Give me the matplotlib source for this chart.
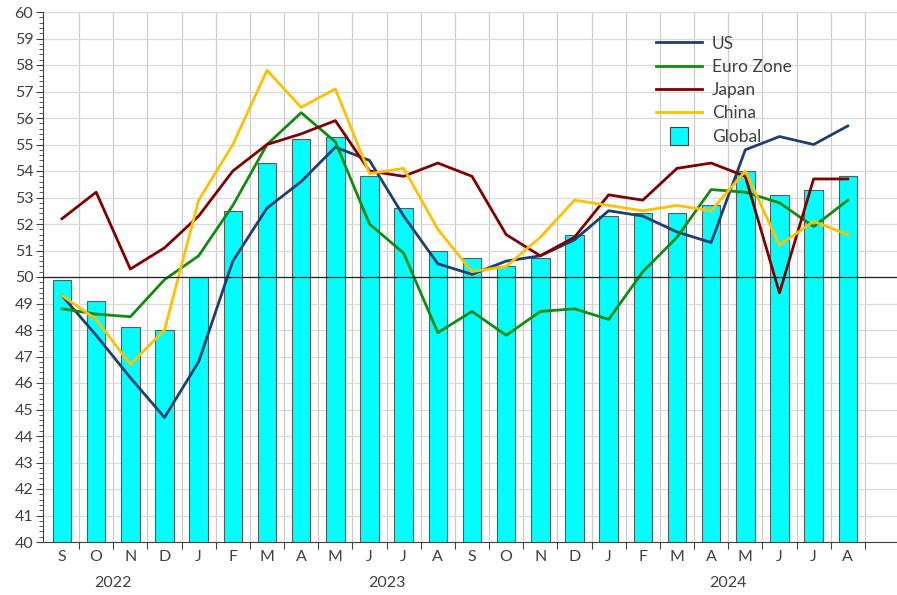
import matplotlib
matplotlib.use("Agg")
import matplotlib.pyplot as plt
from matplotlib.lines import Line2D
from matplotlib.ticker import MultipleLocator, FixedLocator, NullFormatter
from matplotlib.transforms import blended_transform_factory

# -----------------------
# Data (PMI readings, Sep 2022 - Aug 2024)
# -----------------------
months = ["S", "O", "N", "D",
          "J", "F", "M", "A", "M", "J", "J", "A", "S", "O", "N", "D",
          "J", "F", "M", "A", "M", "J", "J", "A"]
years = ["2022", "2023", "2024"]
year_pos = [1.5, 9.5, 19.5]

global_pmi = [49.9, 49.1, 48.1, 48.0, 50.0, 52.5, 54.3, 55.2, 55.3, 53.8, 52.6, 51.0,
              50.7, 50.4, 50.7, 51.6, 52.3, 52.4, 52.4, 52.7, 54.0, 53.1, 53.3, 53.8]
us = [49.3, 47.8, 46.2, 44.7, 46.8, 50.6, 52.6, 53.6, 54.9, 54.4, 52.3, 50.5,
      50.1, 50.6, 50.8, 51.4, 52.5, 52.3, 51.7, 51.3, 54.8, 55.3, 55.0, 55.7]
euro_zone = [48.8, 48.6, 48.5, 49.9, 50.8, 52.7, 55.0, 56.2, 55.1, 52.0, 50.9, 47.9,
             48.7, 47.8, 48.7, 48.8, 48.4, 50.2, 51.5, 53.3, 53.2, 52.8, 51.9, 52.9]
japan = [52.2, 53.2, 50.3, 51.1, 52.3, 54.0, 55.0, 55.4, 55.9, 54.0, 53.8, 54.3,
         53.8, 51.6, 50.8, 51.5, 53.1, 52.9, 54.1, 54.3, 53.8, 49.4, 53.7, 53.7]
china = [49.3, 48.4, 46.7, 48.0, 52.9, 55.0, 57.8, 56.4, 57.1, 53.9, 54.1, 51.8,
         50.2, 50.4, 51.5, 52.9, 52.7, 52.5, 52.7, 52.5, 54.0, 51.2, 52.1, 51.6]

series = [
    ("US", us, "#1F3F6E"),
    ("Euro Zone", euro_zone, "#138A13"),
    ("Japan", japan, "#7F0000"),
    ("China", china, "#FFC000"),
]

plt.rcParams["font.family"] = ["Lato", "DejaVu Sans"]
text_col = "#404040"

fig = plt.figure(figsize=(8.97, 5.95), dpi=100)
ax = fig.add_axes([43 / 897, 53 / 595, 854 / 897, 530 / 595])

x = list(range(len(months)))

ax.bar(x, global_pmi, width=0.54, bottom=0, color="#00FFFF",
       edgecolor="#5A5A5A", linewidth=0.8, zorder=2)

for name, vals, col in series:
    ax.plot(x, vals, color=col, linewidth=2.0, zorder=3)

ax.axhline(50, color="#202020", linewidth=0.9, zorder=4)

ax.set_ylim(40, 60)
ax.set_xlim(-0.556, 24.44)

# y axis
ax.yaxis.set_major_locator(MultipleLocator(1))
ax.yaxis.set_minor_locator(MultipleLocator(0.2))
ax.tick_params(axis="y", which="major", length=5, width=0.8, color="#404040",
               labelsize=11.5, labelcolor=text_col, pad=2)
ax.tick_params(axis="y", which="minor", length=3, width=0.6, color="#404040")

# x axis: ticks at category boundaries, labels at centres
bounds = [i + 0.5 for i in range(len(months))]
ax.xaxis.set_major_locator(FixedLocator(bounds))
ax.xaxis.set_major_formatter(NullFormatter())
ax.xaxis.set_minor_locator(FixedLocator(x))
ax.set_xticklabels(months, minor=True)
ax.tick_params(axis="x", which="major", length=5, width=0.8, color="#404040")
ax.tick_params(axis="x", which="minor", length=0, labelsize=11.5,
               labelcolor=text_col, pad=6)

trans = blended_transform_factory(ax.transData, ax.transAxes)
for yr, pos in zip(years, year_pos):
    ax.text(pos, -0.078, yr, transform=trans, ha="center", va="center",
            fontsize=11.5, color=text_col)

# grid
ax.set_axisbelow(True)
ax.grid(axis="y", which="major", color="#D9D9D9", linewidth=0.9)
for b in bounds:
    ax.axvline(b, color="#CCCCCC", linewidth=0.9, zorder=0)

for side in ["top", "right"]:
    ax.spines[side].set_visible(False)
ax.spines["left"].set_color("#404040")
ax.spines["bottom"].set_color("#404040")
ax.spines["left"].set_linewidth(0.8)
ax.spines["bottom"].set_linewidth(0.8)

handles = [Line2D([0], [0], color=c, linewidth=2.0) for _, _, c in series]
handles.append(Line2D([0], [0], linestyle="none", marker="s", markersize=13,
                      markerfacecolor="#00FFFF", markeredgecolor="#404040",
                      markeredgewidth=0.8))
labels = [n for n, _, _ in series] + ["Global"]
leg = ax.legend(handles, labels, loc="upper left", bbox_to_anchor=(0.70, 0.985),
                frameon=False, fontsize=12.5, labelspacing=0.42,
                handlelength=2.6, handletextpad=0.6)
for t in leg.get_texts():
    t.set_color(text_col)

fig.savefig("out.png", dpi=100)
